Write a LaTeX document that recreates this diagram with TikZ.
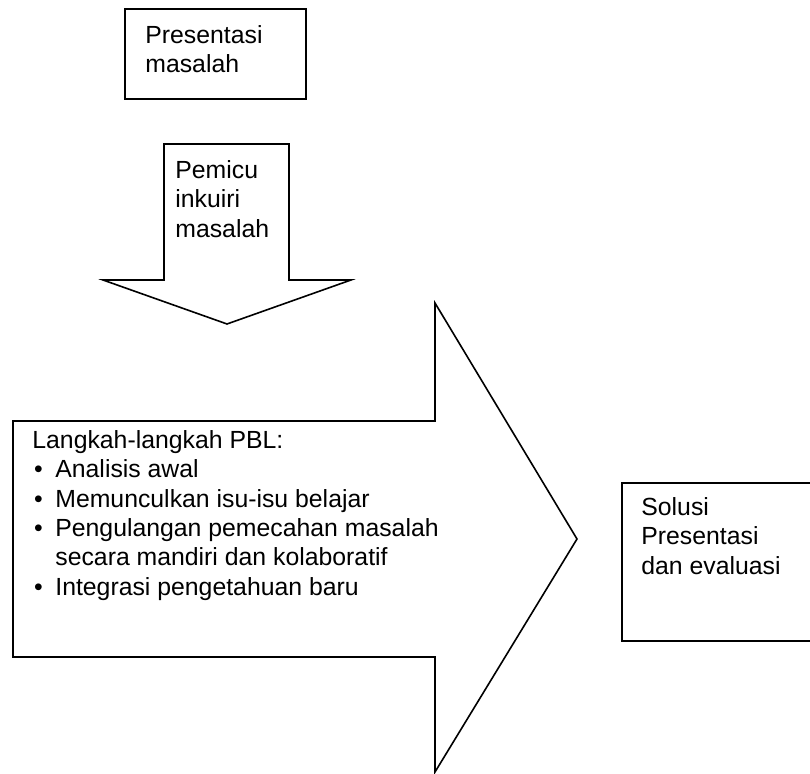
\documentclass[tikz,border=0pt]{standalone}
\usepackage{fontspec}
\setmainfont{Liberation Sans}
\usetikzlibrary{positioning}

\newcommand{\itembullet}{\makebox[11.5pt][l]{\hspace{0.8pt}\textbullet}}

\begin{document}
\begin{tikzpicture}[x=0.5pt, y=-0.5pt,
                    outline/.style={draw, line width=0.8pt, line join=miter},
                    boxtext/.style={inner sep=0pt, anchor=north west, align=left,
                                    font=\fontsize{12.4}{14.7}\selectfont}
                    ]
    \useasboundingbox (0,0) rectangle (810,774);

    % PRESENTASI MASALAH %
    \draw[outline] (125,9) rectangle (306,99);
    \node[boxtext] (presentasi) at (145,25) {Presentasi\\masalah};

    % ARROW DOWN %
    \draw[outline] (164,144) -- (289,144) -- (289,280) -- (351,280)
        -- (227,324) -- (103,280) -- (164,280) -- cycle;
    \node[boxtext] (pemicu) at (175,160) {Pemicu\\inkuiri\\masalah};

    % ARROW RIGHT %
    \draw[outline] (13,421) -- (435,421) -- (435,303) -- (577,539)
        -- (435,772) -- (435,657) -- (13,657) -- cycle;
    \node[boxtext] (langkah) at (32,430) {Langkah-langkah PBL:\\
        \itembullet Analisis awal\\
        \itembullet Memunculkan isu-isu belajar\\
        \itembullet Pengulangan pemecahan masalah\\
        \hspace*{11.5pt}secara mandiri dan kolaboratif\\
        \itembullet Integrasi pengetahuan baru};

    % SOLUSI %
    \draw[outline] (622,483) rectangle (814,641);
    \node[boxtext] (solusi) at (641,497) {Solusi\\Presentasi\\dan evaluasi};
\end{tikzpicture}
\end{document}
